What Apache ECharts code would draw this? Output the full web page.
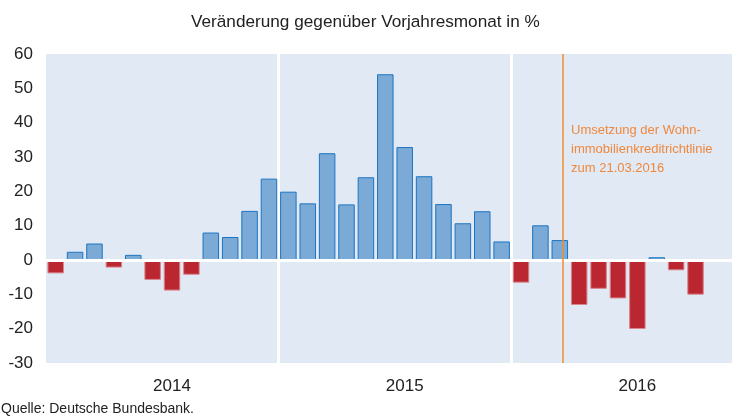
<!DOCTYPE html>
<html>
<head>
<meta charset="utf-8">
<script src="https://cdn.jsdelivr.net/npm/echarts@6/dist/echarts.min.js"></script>
<style>
  html, body { margin: 0; padding: 0; background: #fff; overflow: hidden; width: 732px; }
  /* Zeichenfläche reicht rechts über den Bildrand hinaus (Dez 2016 abgeschnitten) */
  #main { width: 744px; height: 419px; }
</style>
</head>
<body>
<div id="main"></div>
<script>
// Monatswerte, Veränderung gegenüber Vorjahresmonat in %
const years = ["2014", "2015", "2016"];
const values2014 = [-3.9, 2.4, 4.8, -2.2, 1.5, -5.8, -8.9, -4.3, 8.0, 6.7, 14.3, 23.7];
const values2015 = [19.9, 16.5, 31.1, 16.2, 24.1, 54.1, 32.9, 24.4, 16.3, 10.7, 14.2, 5.4];
const values2016 = [-6.6, 10.1, 5.8, -13.1, -8.4, -11.2, -20.1, 0.8, -3.0, -10.1, null, null];
const yTicks = [-30, -20, -10, 0, 10, 20, 30, 40, 50, 60];
const markerPos = 26 + 20 / 31; // 21.03.2016 in Monaten ab Jan 2014

const categories = [];
years.forEach(y => {
  for (let m = 1; m <= 12; m++) categories.push(y + "-" + String(m).padStart(2, "0"));
});
const allValues = values2014.concat(values2015, values2016);

const blue = { color: "#7aaad5", borderColor: "#1c74c2", borderWidth: 1 };
const red = { color: "#bb2730", borderColor: "#d7868d", borderWidth: 1 };

const myChart = echarts.init(document.getElementById("main"));

const option = {
  animation: false,
  textStyle: { fontFamily: "Liberation Sans, Arial, sans-serif" },
  title: {
    text: "Veränderung gegenüber Vorjahresmonat in %",
    left: 186,
    top: 9,
    textStyle: { fontSize: 17.2, fontWeight: "normal", color: "#222" }
  },
  grid: {
    left: 46, top: 54, right: 0, bottom: 56,
    show: true, backgroundColor: "#e1e9f5", borderWidth: 0
  },
  xAxis: [
    {
      type: "category",
      data: categories,
      axisLine: { show: false, onZero: false },
      axisTick: { show: false },
      axisLabel: {
        interval: (i) => i % 12 === 6,
        formatter: (v) => v.slice(0, 4),
        fontSize: 17, color: "#222", margin: 15
      },
      splitLine: {
        show: true,
        interval: (i) => i % 12 === 0 && i > 0,
        lineStyle: { color: "#fff", width: 3 }
      }
    },
    { type: "value", min: 0, max: 36, show: false }
  ],
  yAxis: {
    type: "value",
    min: yTicks[0],
    max: yTicks[yTicks.length - 1],
    interval: 10,
    axisLine: { show: false },
    axisTick: { show: false },
    splitLine: { show: false },
    axisLabel: { fontSize: 17, color: "#222", margin: 13 }
  },
  series: [
    {
      type: "bar",
      barWidth: 16.5,
      data: allValues.map(v => ({ value: v, itemStyle: v < 0 ? red : blue })),
      markLine: {
        silent: true, symbol: "none", z: 10,
        label: { show: false },
        lineStyle: { color: "#fff", width: 3, type: "solid" },
        data: [{ yAxis: 0 }]
      }
    },
    {
      type: "line",
      xAxisIndex: 1,
      data: [],
      markLine: {
        silent: true, symbol: "none", z: 11,
        label: { show: false },
        lineStyle: { color: "#f28b30", width: 1.5, type: "solid" },
        data: [{ xAxis: markerPos }]
      }
    }
  ],
  graphic: [
    {
      type: "text", left: 571, top: 121, z: 20,
      style: {
        text: "Umsetzung der Wohn-\nimmobilienkreditrichtlinie\nzum 21.03.2016",
        fill: "#f0883c", fontSize: 13, lineHeight: 19,
        fontFamily: "Liberation Sans, Arial, sans-serif"
      }
    },
    {
      type: "text", left: 1, top: 402,
      style: {
        text: "Quelle: Deutsche Bundesbank.",
        fill: "#222", fontSize: 14,
        fontFamily: "Liberation Sans, Arial, sans-serif"
      }
    }
  ]
};

option && myChart.setOption(option);
</script>
</body>
</html>
